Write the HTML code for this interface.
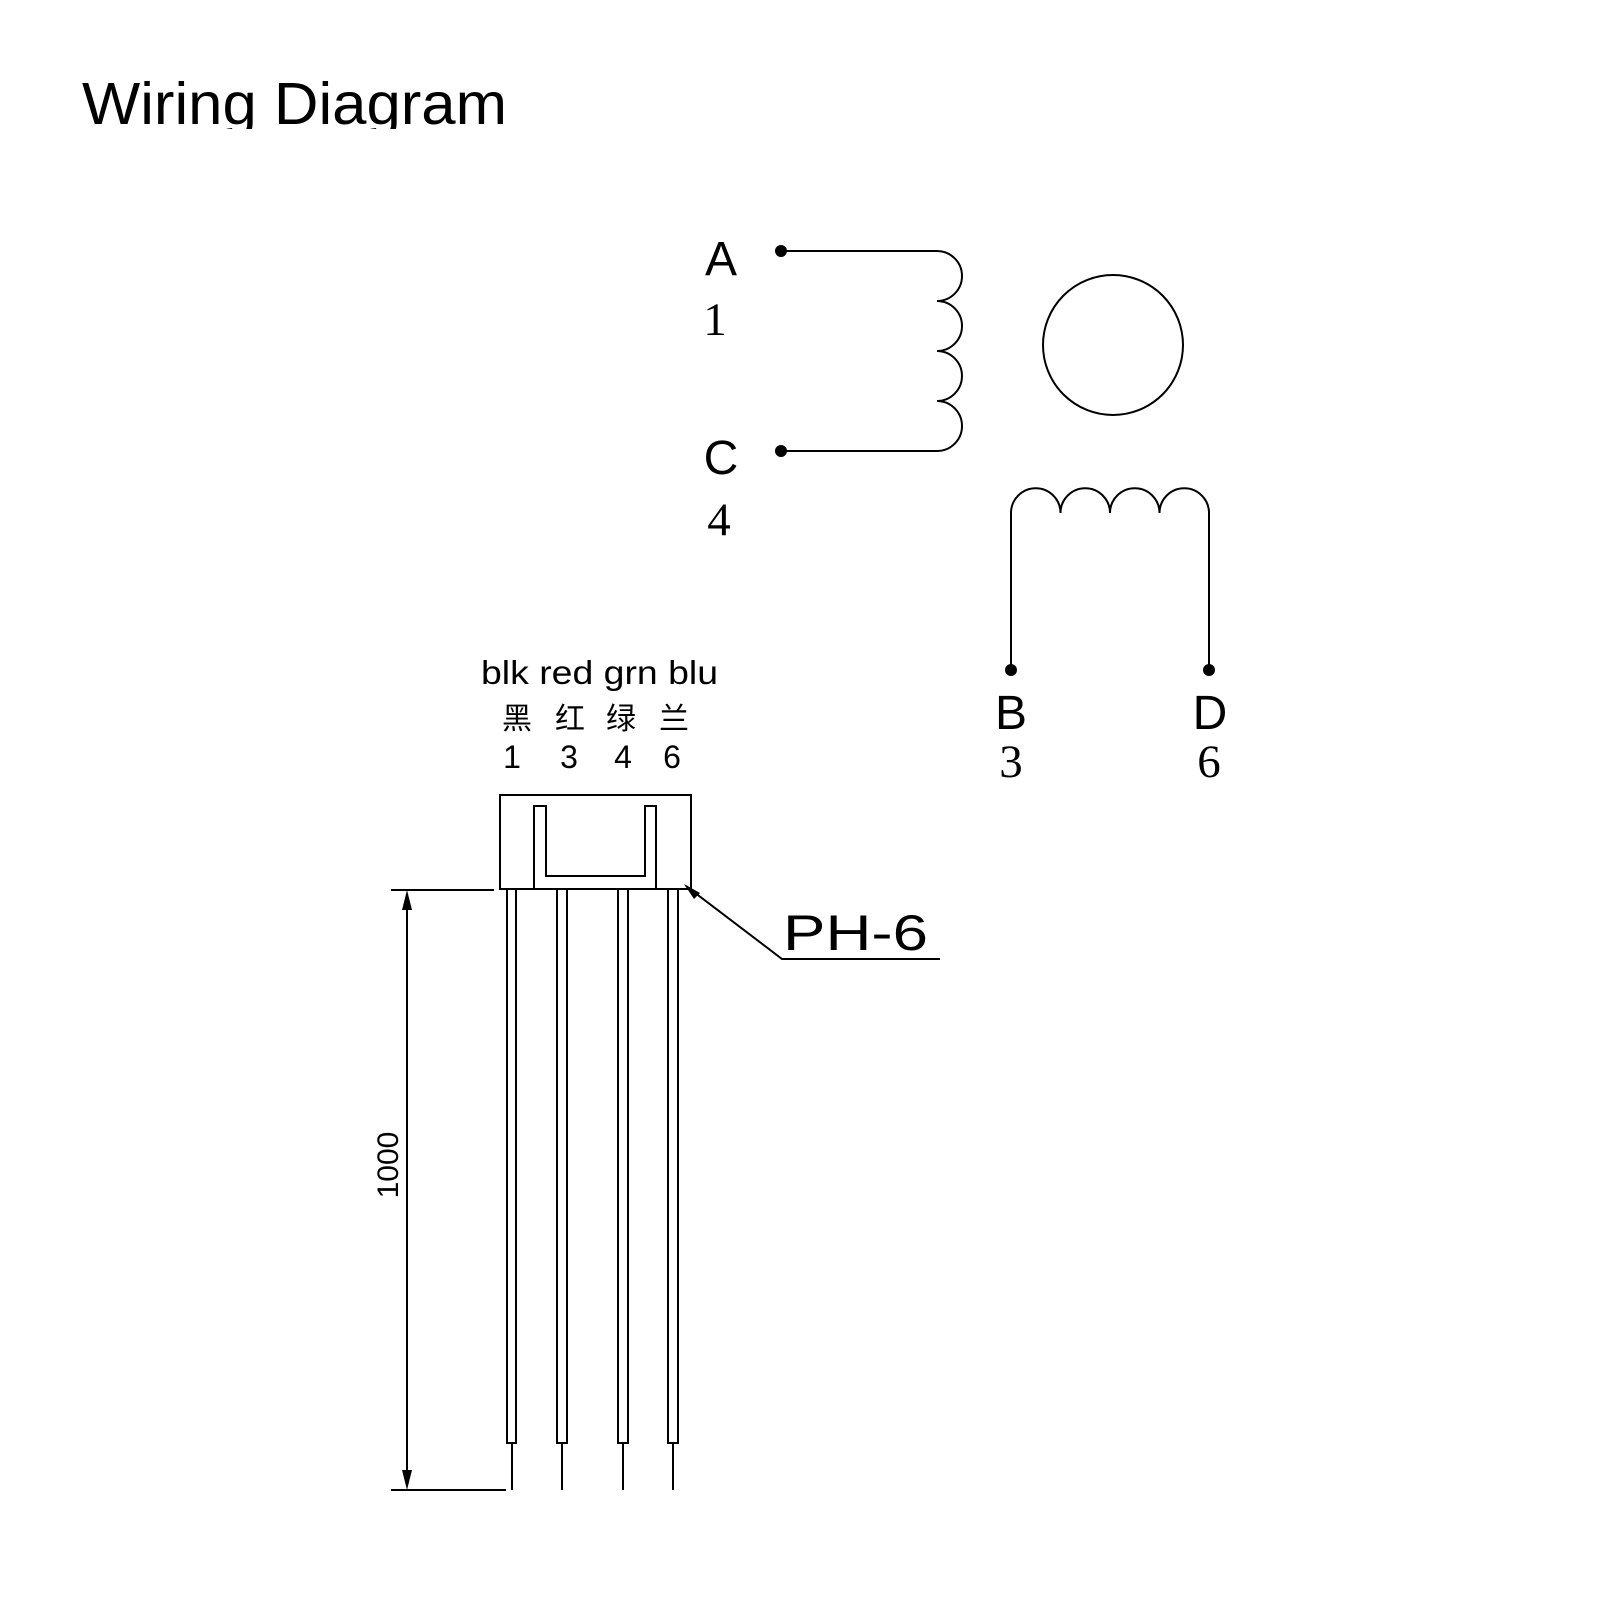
<!DOCTYPE html>
<html><head><meta charset="utf-8"><style>
html,body{margin:0;padding:0;background:#fff;}
svg{display:block;}
</style></head><body>
<svg width="1600" height="1600" viewBox="0 0 1600 1600" xmlns="http://www.w3.org/2000/svg">
<defs><clipPath id="tc"><rect x="0" y="0" width="1600" height="129"/></clipPath></defs>
<g clip-path="url(#tc)">
<text x="82" y="124" font-family="Liberation Sans, sans-serif" font-size="59" textLength="425" lengthAdjust="spacingAndGlyphs" fill="#000">Wiring Diagram</text>
</g>
<g fill="none" stroke="#000" stroke-width="2">
<path d="M781 251 H937 A25 25 0 0 1 937 301 A25 25 0 0 1 937 351 A25 25 0 0 1 937 401 A25 25 0 0 1 937 451 H781"/>
<circle cx="1113" cy="345" r="70"/>
<path d="M1011 669 V513 A24.75 24.75 0 0 1 1060.5 513 A24.75 24.75 0 0 1 1110 513 A24.75 24.75 0 0 1 1159.5 513 A24.75 24.75 0 0 1 1209 513 V669"/>
<rect x="500" y="795" width="191" height="94"/>
<path d="M534 889 V806 H546 V876 H645 V806 H656 V889"/>
<rect x="507" y="889" width="9" height="554"/>
<rect x="557" y="889" width="10" height="554"/>
<rect x="618" y="889" width="10" height="554"/>
<rect x="668" y="889" width="10" height="554"/>
<path d="M512 1443 V1490 M562 1443 V1490 M623 1443 V1490 M673 1443 V1490"/>
<path d="M391 890 H494 M391 1490 H506 M407 895 V1485"/>
<path d="M686 886 L782 959 H940"/>
</g>
<g fill="#000">
<circle cx="781" cy="251" r="6"/>
<circle cx="781" cy="451" r="6"/>
<circle cx="1011" cy="670" r="6"/>
<circle cx="1209" cy="670" r="6"/>
<path d="M407 890 L402 910 L412 910 Z"/>
<path d="M407 1490 L402 1470 L412 1470 Z"/>
<path d="M684 884 L700 893 L694 899 Z"/>
</g>
<g font-family="Liberation Sans, sans-serif" fill="#000">
<text x="721" y="275" font-size="48" text-anchor="middle">A</text>
<text x="721" y="474" font-size="48" text-anchor="middle">C</text>
<text x="1011" y="729" font-size="48" text-anchor="middle">B</text>
<text x="1210" y="729" font-size="48" text-anchor="middle">D</text>
<text x="481" y="684" font-size="33" textLength="237" lengthAdjust="spacingAndGlyphs">blk red grn blu</text>
<text x="783" y="950" font-size="50" textLength="145" lengthAdjust="spacingAndGlyphs">PH-6</text>
<text x="512" y="768" font-size="32" text-anchor="middle">1</text>
<text x="569" y="768" font-size="32" text-anchor="middle">3</text>
<text x="623" y="768" font-size="32" text-anchor="middle">4</text>
<text x="672" y="768" font-size="32" text-anchor="middle">6</text>
<text transform="translate(398 1165) rotate(-90)" font-size="30" text-anchor="middle">1000</text>
</g>
<g font-family="Liberation Serif, serif" fill="#000" font-size="47" text-anchor="middle">
<text x="715" y="335">1</text>
<text x="719" y="535">4</text>
<text x="1011" y="777">3</text>
<text x="1209" y="777">6</text>
</g>
<g font-family="Liberation Sans, 'Noto Sans CJK SC', sans-serif" fill="#000" font-size="30" text-anchor="middle">
<text x="517" y="729">黑</text>
<text x="570" y="729">红</text>
<text x="621" y="729">绿</text>
<text x="674" y="729">兰</text>
</g>
</svg>
</body></html>
